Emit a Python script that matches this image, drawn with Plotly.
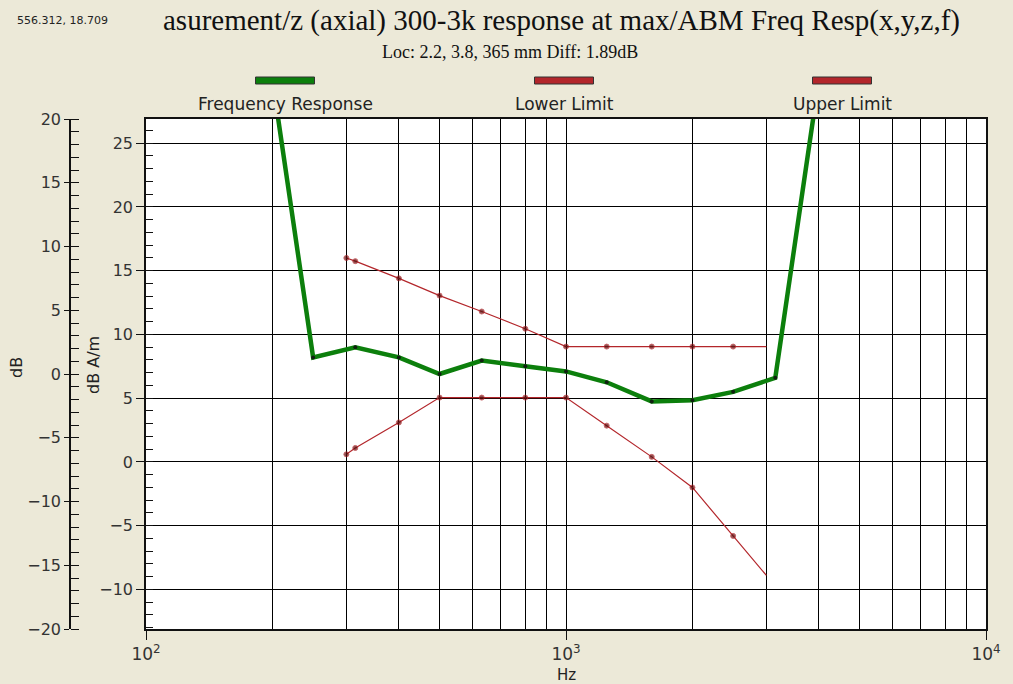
import plotly.graph_objects as go

# ---------------- data ----------------
freq_resp_hz = [200, 250, 315, 400, 500, 630, 800, 1000, 1250, 1600, 2000, 2500, 3150, 4000]
freq_resp_db = [30.0, 8.2, 9.0, 8.2, 6.9, 7.95, 7.5, 7.1, 6.25, 4.75, 4.85, 5.5, 6.6, 30.0]

limit_hz = [300, 315, 400, 500, 630, 800, 1000, 1250, 1600, 2000, 2500, 3000]
lower_db = [0.6, 1.1, 3.1, 5.05, 5.05, 5.05, 5.05, 2.85, 0.4, -2.0, -5.8, -8.9]
upper_db = [16.0, 15.75, 14.4, 13.05, 11.8, 10.45, 9.05, 9.05, 9.05, 9.05, 9.05, 9.05]

x_major = [100, 1000, 10000]
x_major_text = ["10<sup>2</sup>", "10<sup>3</sup>", "10<sup>4</sup>"]
x_minor = [200, 300, 400, 500, 600, 700, 800, 900, 2000, 3000, 4000, 5000, 6000, 7000, 8000, 9000]
inner_ticks = [-10, -5, 0, 5, 10, 15, 20, 25]
outer_ticks = [-20, -15, -10, -5, 0, 5, 10, 15, 20]

legend_names = ["Frequency Response", "Lower Limit", "Upper Limit"]

# ---------------- layout geometry (pixels) ----------------
W, H = 1013, 684
L, R, T, B = 70, 986, 119, 629
PLOT_LEFT = 146


def px(x):
    return (x - L) / (R - L)


def py(y):
    return (B - y) / (B - T)


BG = "#ECE9D8"
GREEN = "#0c7f0c"
RED = "#b3262b"
TICKCOL = "#333333"
SANS = "DejaVu Sans, Verdana, sans-serif"
SERIF = "Liberation Serif, Times New Roman, serif"

fig = go.Figure()

fig.add_trace(go.Scatter(
    x=freq_resp_hz, y=freq_resp_db, mode="lines+markers",
    line=dict(color=GREEN, width=4.5),
    marker=dict(color="#102010", size=4),
    name=legend_names[0], showlegend=False,
))

limit_marker_sizes = [5] * (len(limit_hz) - 1) + [0]
fig.add_trace(go.Scatter(
    x=limit_hz, y=lower_db, mode="lines+markers",
    line=dict(color=RED, width=1.2),
    marker=dict(color="#5a0a0a", size=limit_marker_sizes),
    name=legend_names[1], showlegend=False,
))
fig.add_trace(go.Scatter(
    x=limit_hz, y=upper_db, mode="lines+markers",
    line=dict(color=RED, width=1.2),
    marker=dict(color="#5a0a0a", size=limit_marker_sizes),
    name=legend_names[2], showlegend=False,
))
# invisible trace so the outer axis is drawn
fig.add_trace(go.Scatter(x=[None], y=[None], yaxis="y2", showlegend=False, hoverinfo="skip"))

xdom0 = (PLOT_LEFT - L) / (R - L)

fig.update_layout(
    width=W, height=H,
    paper_bgcolor=BG, plot_bgcolor="white",
    margin=dict(l=L, r=W - R, t=T, b=H - B),
    font=dict(family=SANS, color=TICKCOL, size=16),
    showlegend=False,
    xaxis=dict(
        type="log", range=[2, 4], domain=[xdom0, 1],
        tickmode="array", tickvals=x_major, ticktext=x_major_text,
        ticks="outside", ticklen=9, tickcolor="#111", tickwidth=1,
        showgrid=True, gridcolor="#000", gridwidth=1,
        minor=dict(tickmode="array", tickvals=x_minor, showgrid=True,
                   gridcolor="#000", gridwidth=1, ticks=""),
        showline=True, linecolor="#111", linewidth=1.5, mirror=True,
        zeroline=False, tickfont=dict(family=SANS, size=17, color=TICKCOL),
    ),
    yaxis=dict(
        range=[-13.1, 26.9],
        tickmode="array", tickvals=inner_ticks,
        ticks="outside", ticklen=8, tickcolor="#111",
        showgrid=True, gridcolor="#000", gridwidth=1,
        minor=dict(dtick=1, tick0=0, ticks="inside", ticklen=7, tickcolor="#111", showgrid=False),
        showline=True, linecolor="#111", linewidth=1.5, mirror=True,
        zeroline=False, tickfont=dict(family=SANS, size=16, color=TICKCOL),
    ),
    yaxis2=dict(
        range=[-20, 20], overlaying="y", anchor="free", position=0, side="left",
        tickmode="array", tickvals=outer_ticks,
        ticks="outside", ticklen=5, tickcolor="#111",
        minor=dict(dtick=1, tick0=0, ticks="inside", ticklen=8, tickcolor="#111", showgrid=False),
        showgrid=False, zeroline=False,
        showline=True, linecolor="#111", linewidth=1.5,
        tickfont=dict(family=SANS, size=16, color=TICKCOL),
    ),
)

ann = []
# top-left coordinate readout
ann.append(dict(text="556.312, 18.709", x=px(15), y=py(20), xref="paper", yref="paper",
                xanchor="left", yanchor="middle", showarrow=False,
                font=dict(family=SANS, size=11, color="#222")))
# title (left part cut off in the original)
ann.append(dict(text="asurement/z (axial) 300-3k response at max/ABM Freq Resp(x,y,z,f)",
                x=px(161), y=py(20), xref="paper", yref="paper",
                xanchor="left", yanchor="middle", showarrow=False,
                font=dict(family=SERIF, size=29, color="#111")))
# subtitle
ann.append(dict(text="Loc: 2.2, 3.8, 365 mm Diff: 1.89dB", x=px(380), y=py(52),
                xref="paper", yref="paper", xanchor="left", yanchor="middle",
                showarrow=False, font=dict(family=SERIF, size=18, color="#111")))
# custom legend: swatch above label
legend_centers = [285, 564, 842]
legend_colors = [GREEN, RED, RED]
shapes = []
for name, cx, col in zip(legend_names, legend_centers, legend_colors):
    shapes.append(dict(type="rect", xref="paper", yref="paper",
                       x0=px(cx - 29.5), x1=px(cx + 29.5), y0=py(84), y1=py(77),
                       fillcolor=col, line=dict(color="#333", width=1)))
    ann.append(dict(text=name, x=px(cx), y=py(104), xref="paper", yref="paper",
                    xanchor="center", yanchor="middle", showarrow=False,
                    font=dict(family=SANS, size=17, color="#222")))
# axis titles
ann.append(dict(text="dB", x=px(16), y=py(368), xref="paper", yref="paper",
                xanchor="center", yanchor="middle", textangle=-90, showarrow=False,
                font=dict(family=SANS, size=16, color="#222")))
ann.append(dict(text="dB A/m", x=px(93), y=py(365), xref="paper", yref="paper",
                xanchor="center", yanchor="middle", textangle=-90, showarrow=False,
                font=dict(family=SANS, size=16, color="#222")))
ann.append(dict(text="Hz", x=px(566), y=py(675), xref="paper", yref="paper",
                xanchor="center", yanchor="middle", showarrow=False,
                font=dict(family=SANS, size=15, color="#222")))

fig.update_layout(annotations=ann, shapes=shapes)

fig.write_html(
    "out.html",
    config={"displayModeBar": False},
    post_script=(
        "document.body.style.margin='0';"
        "document.body.style.padding='0';"
        "document.body.style.overflow='hidden';"
        "document.documentElement.style.overflow='hidden';"
        "document.body.style.background='#ECE9D8';"
    ),
)
